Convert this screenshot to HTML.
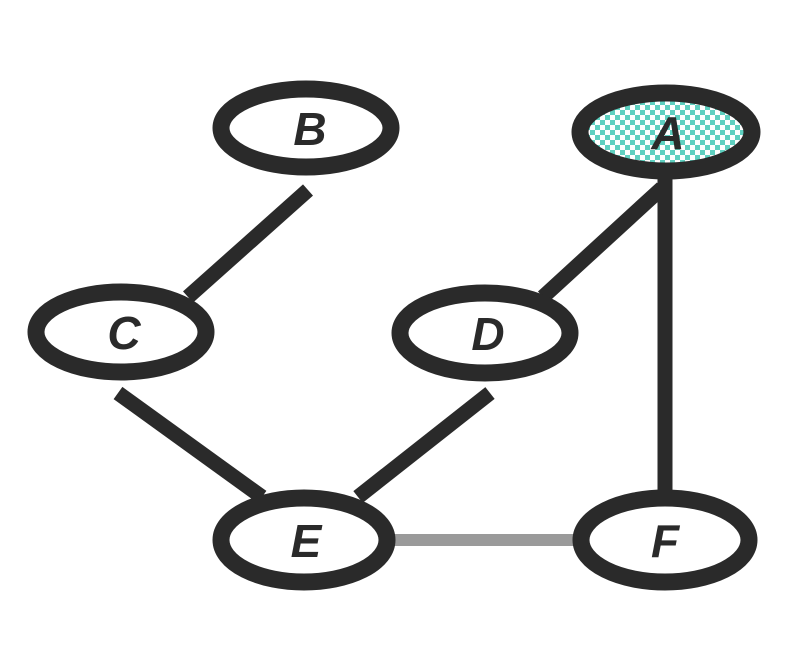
<!DOCTYPE html>
<html><head><style>body{margin:0;background:#fff}</style></head><body>
<svg width="812" height="658" viewBox="0 0 812 658" xmlns="http://www.w3.org/2000/svg">
<defs>
<pattern id="chk" width="10" height="10" patternUnits="userSpaceOnUse">
<rect width="10" height="10" fill="#fff"/>
<rect width="5" height="5" fill="#5fd0c0"/>
<rect x="5" y="5" width="5" height="5" fill="#5fd0c0"/>
</pattern>
</defs>
<g stroke="#2a2a2a" stroke-width="15" stroke-linecap="butt">
<line x1="308" y1="190" x2="188" y2="297"/>
<line x1="662" y1="188" x2="543" y2="297"/>
<line x1="665" y1="175" x2="665" y2="495"/>
<line x1="118" y1="393" x2="262" y2="497"/>
<line x1="490" y1="393" x2="358" y2="497"/>
</g>
<line x1="388" y1="540" x2="592" y2="540" stroke="#9a9a9a" stroke-width="12"/>
<g stroke="#2a2a2a" stroke-width="17" fill="#fff">
<ellipse cx="306" cy="128" rx="85" ry="39"/>
<ellipse cx="666" cy="132" rx="86" ry="39" fill="url(#chk)"/>
<ellipse cx="121" cy="332" rx="85" ry="40"/>
<ellipse cx="485" cy="333" rx="85" ry="40"/>
<ellipse cx="304" cy="540" rx="83" ry="42"/>
<ellipse cx="665" cy="540" rx="84" ry="42"/>
</g>
<g font-family="Liberation Sans, sans-serif" font-weight="bold" font-style="italic" font-size="46" fill="#2a2a2a" text-anchor="middle">
<text x="310" y="145">B</text>
<text x="668" y="149">A</text>
<text x="124" y="349">C</text>
<text x="488" y="350">D</text>
<text x="306" y="557">E</text>
<text x="665" y="557">F</text>
</g>
</svg>
</body></html>
